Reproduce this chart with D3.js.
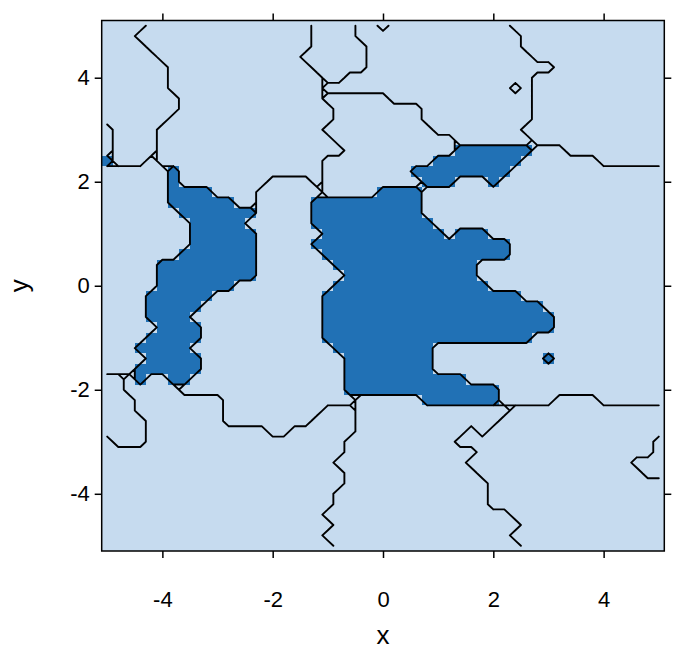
<!DOCTYPE html>
<html>
<head>
<meta charset="utf-8">
<script src="https://cdn.jsdelivr.net/npm/d3@7"></script>
<style>
body { margin: 0; background: #fff; }
svg { display: block; font-family: "Liberation Sans", Arial, sans-serif; }
</style>
</head>
<body>
<div id="chart"></div>
<script>
// grid points: -5 .. 5 by 0.2 on both axes
var gridX = d3.range(51).map(i => -5 + 0.2 * i);
var gridY = d3.range(51).map(j => 5 - 0.2 * j);   // rows from the top

// region of every grid cell, one row per line (top first), as runs "<label><count>"
// D = the dark class, every other letter is a light region
var cellRows = [
  "a4 c15 d4 f2 e1 f11 m14",
  "a3 c16 d4 f15 m13",
  "a4 c15 d5 f14 m13",
  "a5 c13 d6 f15 m12",
  "a6 c13 d5 f17 m10",
  "a6 c14 d2 f17 m12",
  "a6 c14 f17 g1 f1 m12",
  "a7 c13 h6 f13 m12",
  "a7 c14 h8 f10 m12",
  "a6 c15 h8 f10 m12",
  "b1 a4 c15 h10 f8 m13",
  "b1 a4 c16 h11 f7 m12",
  "b1 a4 c17 h10 D7 k3 m9",
  "D1 a3 i1 c15 h10 D8 k7 m6",
  "i6 D1 c13 h8 D9 k14",
  "i6 D1 c8 j4 c1 h9 D3 k3 D1 k15",
  "i6 D4 c4 j6 h5 D4 k22",
  "i6 D6 c2 j5 D10 k22",
  "i7 D7 j5 D10 k22",
  "i8 D5 j6 D11 k21",
  "i8 D6 j6 D11 k1 D3 k16",
  "i8 D6 j5 D18 k14",
  "i7 D7 j6 D17 k14",
  "i5 D9 j7 D13 k17",
  "i5 D9 j8 D12 k17",
  "i5 D7 j9 D14 k16",
  "i4 D6 j10 D18 k13",
  "i4 D5 j11 D20 k11",
  "i4 D4 j12 D21 k10",
  "i5 D4 j11 D21 k10",
  "i4 D5 j11 D19 k12",
  "i3 D5 j13 D9 k21",
  "i4 D5 j13 D8 k10 D1 k10",
  "i3 D6 j13 D8 k21",
  "p2 q1 D1 q2 D2 j14 D11 k18",
  "p2 q5 j15 D14 k15",
  "p3 q8 j12 s6 D7 k5 t4 k6",
  "p3 q8 j9 q3 s14 t14",
  "p4 q7 j8 q4 s13 t15",
  "p4 q11 j2 q6 s10 t1 s1 t16",
  "q1 p3 q18 s10 t18 u1",
  "q22 s12 t16 u1",
  "q21 s12 t15 u3",
  "q22 s12 t15 u2",
  "q22 s13 t16",
  "q21 s14 t16",
  "q21 s14 t16",
  "q20 s17 t14",
  "q21 s17 t13",
  "q20 s17 t14",
  "q21 s17 t13"
];

var darkLabels = ["D"];
var xTicks = [-4, -2, 0, 2, 4];
var yTicks = [-4, -2, 0, 2, 4];

var lightCol = "#c6dbef";
var darkCol = "#2171b5";

var svg = d3.select("#chart")
    .append("svg")
    .attr("width", 673)
    .attr("height", 652);

var xScale = d3.scaleLinear().domain([-5.1, 5.1]).range([101.7, 664.3]);
var yScale = d3.scaleLinear().domain([-5.1, 5.1]).range([551, 20.5]);

// expand the runs into a 51 x 51 label grid
var grid = cellRows.map(function (row) {
    var out = [];
    row.split(" ").forEach(function (run) {
        var lab = run[0], n = +run.slice(1);
        for (var k = 0; k < n; k++) out.push(lab);
    });
    return out;
});

// panel background (light class)
svg.append("rect")
    .attr("x", xScale(-5.1))
    .attr("y", yScale(5.1))
    .attr("width", xScale(5.1) - xScale(-5.1))
    .attr("height", yScale(-5.1) - yScale(5.1))
    .attr("fill", lightCol);

// dark cells
var cells = [];
grid.forEach(function (row, r) {
    row.forEach(function (lab, c) {
        if (darkLabels.includes(lab)) cells.push({ x: gridX[c], y: gridY[r] });
    });
});

svg.append("g")
    .selectAll("rect")
    .data(cells)
    .join("rect")
    .attr("x", d => xScale(d.x - 0.1))
    .attr("y", d => yScale(d.y + 0.1))
    .attr("width", d => xScale(d.x + 0.1) - xScale(d.x - 0.1))
    .attr("height", d => yScale(d.y - 0.1) - yScale(d.y + 0.1))
    .attr("fill", darkCol)
    .attr("shape-rendering", "crispEdges");

// contour lines: marching squares on each region's indicator
function toPx(p) {
    return [xScale(-5 + 0.2 * p[0]), yScale(5 - 0.2 * p[1])];
}
var labels = Array.from(new Set(grid.flat()));
var segs = [];
labels.forEach(function (lab) {
    for (var r = 0; r < 50; r++) {
        for (var c = 0; c < 50; c++) {
            var code = (grid[r][c] === lab ? 8 : 0) + (grid[r][c + 1] === lab ? 4 : 0) +
                (grid[r + 1][c + 1] === lab ? 2 : 0) + (grid[r + 1][c] === lab ? 1 : 0);
            var T = [c + 0.5, r], B = [c + 0.5, r + 1], L = [c, r + 0.5], R = [c + 1, r + 0.5];
            var table = {
                1: [[L, B]], 2: [[B, R]], 3: [[L, R]], 4: [[T, R]], 5: [[T, R], [L, B]],
                6: [[T, B]], 7: [[T, L]], 8: [[T, L]], 9: [[T, B]], 10: [[T, L], [B, R]],
                11: [[T, R]], 12: [[L, R]], 13: [[B, R]], 14: [[L, B]]
            };
            (table[code] || []).forEach(s => segs.push(s));
        }
    }
});

svg.append("path")
    .attr("d", segs.map(s => "M" + toPx(s[0]).join(",") + "L" + toPx(s[1]).join(",")).join(""))
    .attr("fill", "none")
    .attr("stroke", "#000")
    .attr("stroke-width", 1.9)
    .attr("stroke-linecap", "round")
    .attr("stroke-linejoin", "round");

// panel border
svg.append("rect")
    .attr("x", xScale(-5.1))
    .attr("y", yScale(5.1))
    .attr("width", xScale(5.1) - xScale(-5.1))
    .attr("height", yScale(-5.1) - yScale(5.1))
    .attr("fill", "none")
    .attr("stroke", "#000")
    .attr("stroke-width", 1.5);

// ticks on all four sides, labels bottom and left
function styleAxis(g) {
    g.select(".domain").remove();
    g.selectAll(".tick line").attr("stroke", "#000").attr("stroke-width", 1.5);
    g.selectAll(".tick text").attr("fill", "#000").attr("font-size", 22);
}

svg.append("g")
    .attr("transform", `translate(0, ${yScale(-5.1)})`)
    .call(d3.axisBottom(xScale).tickValues(xTicks).tickSize(7).tickPadding(33).tickFormat(d => String(d)))
    .call(styleAxis);

svg.append("g")
    .attr("transform", `translate(0, ${yScale(5.1)})`)
    .call(d3.axisTop(xScale).tickValues(xTicks).tickSize(7).tickFormat(""))
    .call(styleAxis);

svg.append("g")
    .attr("transform", `translate(${xScale(-5.1)}, 0)`)
    .call(d3.axisLeft(yScale).tickValues(yTicks).tickSize(7).tickPadding(5).tickFormat(d => String(d)))
    .call(styleAxis);

svg.append("g")
    .attr("transform", `translate(${xScale(5.1)}, 0)`)
    .call(d3.axisRight(yScale).tickValues(yTicks).tickSize(7).tickFormat(""))
    .call(styleAxis);

// axis titles
svg.append("text")
    .attr("x", xScale(0))
    .attr("y", 644)
    .attr("text-anchor", "middle")
    .attr("font-size", 26)
    .text("x");

svg.append("text")
    .attr("transform", `translate(28, ${yScale(0)}) rotate(-90)`)
    .attr("text-anchor", "middle")
    .attr("font-size", 26)
    .text("y");
</script>
</body>
</html>
